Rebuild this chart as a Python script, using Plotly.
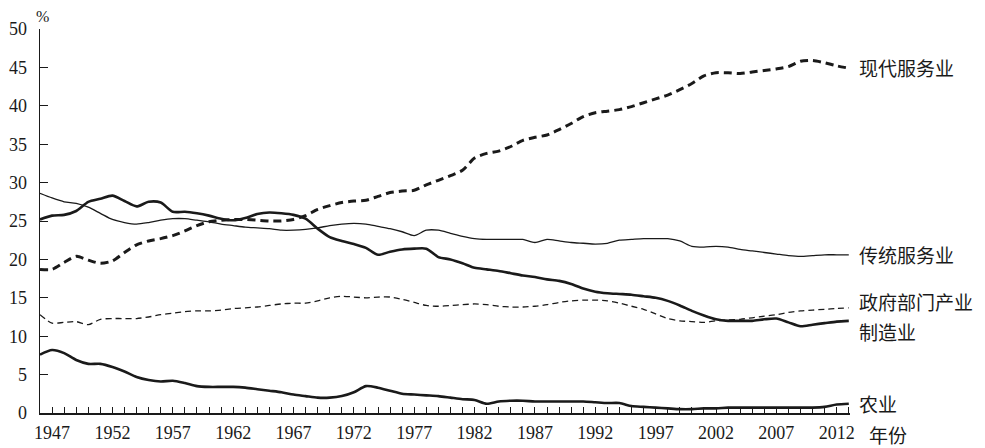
import plotly.graph_objects as go

years = list(range(1946, 2014))

modern_services = [18.7, 18.7, 19.6, 20.4, 19.9, 19.5, 19.8, 20.9, 21.9, 22.4,
                   22.7, 23.1, 23.7, 24.4, 24.9, 25.1, 25.2, 25.2, 25.1, 25.0,
                   25.0, 25.2, 25.7, 26.5, 27.0, 27.4, 27.6, 27.7, 28.2, 28.7,
                   28.9, 29.0, 29.7, 30.3, 30.9, 31.6, 33.2, 33.8, 34.1, 34.7,
                   35.5, 35.9, 36.2, 36.9, 37.7, 38.6, 39.1, 39.3, 39.5, 39.9,
                   40.4, 40.9, 41.4, 42.1, 42.9, 43.9, 44.3, 44.3, 44.2, 44.4,
                   44.6, 44.8, 45.1, 45.8, 45.9, 45.6, 45.2, 44.9]

traditional_services = [28.6, 28.0, 27.5, 27.3, 26.8, 26.0, 25.2, 24.8, 24.6, 24.8,
                        25.1, 25.3, 25.3, 25.1, 24.9, 24.6, 24.4, 24.2, 24.1, 24.0,
                        23.8, 23.8, 23.9, 24.1, 24.4, 24.6, 24.7, 24.6, 24.3, 24.0,
                        23.6, 23.1, 23.8, 23.8, 23.4, 23.0, 22.7, 22.6, 22.6, 22.6,
                        22.6, 22.2, 22.6, 22.4, 22.2, 22.1, 22.0, 22.1, 22.5, 22.6,
                        22.7, 22.7, 22.7, 22.4, 21.7, 21.6, 21.7, 21.6, 21.3, 21.1,
                        20.9, 20.7, 20.5, 20.4, 20.5, 20.6, 20.6, 20.6]

government = [12.8, 11.7, 11.8, 11.9, 11.5, 12.2, 12.3, 12.3, 12.3, 12.5,
              12.8, 13.0, 13.2, 13.3, 13.3, 13.4, 13.6, 13.7, 13.8, 14.0,
              14.2, 14.3, 14.3, 14.6, 15.0, 15.2, 15.1, 15.0, 15.1, 15.1,
              14.8, 14.4, 14.0, 13.9, 14.0, 14.1, 14.2, 14.1, 13.9, 13.8,
              13.8, 13.9, 14.1, 14.4, 14.6, 14.7, 14.7, 14.6, 14.3, 13.9,
              13.5, 12.9, 12.3, 12.0, 11.9, 11.8, 12.0, 12.1, 12.2, 12.4,
              12.6, 12.8, 13.1, 13.3, 13.4, 13.5, 13.6, 13.7]

manufacturing = [25.2, 25.7, 25.8, 26.3, 27.5, 27.9, 28.3, 27.6, 26.9, 27.5,
                 27.4, 26.2, 26.2, 26.0, 25.7, 25.3, 25.1, 25.4, 25.9, 26.1,
                 26.0, 25.8, 25.3, 24.0, 22.9, 22.4, 22.0, 21.5, 20.6, 21.0,
                 21.3, 21.4, 21.4, 20.3, 20.0, 19.5, 18.9, 18.7, 18.5, 18.2,
                 17.9, 17.7, 17.4, 17.2, 16.8, 16.2, 15.8, 15.6, 15.5, 15.4,
                 15.2, 15.0, 14.6, 14.0, 13.3, 12.7, 12.2, 12.0, 12.0, 12.0,
                 12.2, 12.3, 11.8, 11.3, 11.5, 11.7, 11.9, 12.0]

agriculture = [7.6, 8.2, 7.8, 6.9, 6.4, 6.4, 6.0, 5.4, 4.7, 4.3,
               4.1, 4.2, 3.9, 3.5, 3.4, 3.4, 3.4, 3.3, 3.1, 2.9,
               2.7, 2.4, 2.2, 2.0, 2.0, 2.2, 2.7, 3.5, 3.3, 2.9,
               2.5, 2.4, 2.3, 2.2, 2.0, 1.8, 1.7, 1.2, 1.5, 1.6,
               1.6, 1.5, 1.5, 1.5, 1.5, 1.5, 1.4, 1.3, 1.3, 0.9,
               0.8, 0.7, 0.6, 0.5, 0.5, 0.6, 0.6, 0.7, 0.7, 0.7,
               0.7, 0.7, 0.7, 0.7, 0.7, 0.8, 1.1, 1.2]

series_names = ["现代服务业", "传统服务业", "政府部门产业", "制造业", "农业"]
label_values = [45.0, 20.6, 14.5, 10.6, 1.3]
x_tick_years = list(range(1947, 2013, 5))
y_ticks = list(range(0, 51, 5))

INK = "#1a1a1a"
SERIF = "Liberation Serif, Times New Roman, serif"
CJK = "Noto Sans CJK SC, sans-serif"

styles = [
    dict(width=3.0, dash="8px,5px"),
    dict(width=1.3, dash="solid"),
    dict(width=1.3, dash="6px,4px"),
    dict(width=2.6, dash="solid"),
    dict(width=2.6, dash="solid"),
]
data = [modern_services, traditional_services, government, manufacturing, agriculture]

fig = go.Figure()
for name, vals, st in zip(series_names, data, styles):
    fig.add_trace(go.Scatter(
        x=years, y=vals, mode="lines", name=name,
        line=dict(color=INK, width=st["width"], dash=st["dash"], shape="spline", smoothing=0.7),
        hoverinfo="skip", showlegend=False,
    ))

for name, v in zip(series_names, label_values):
    fig.add_annotation(
        x=1, xref="paper", y=v, yref="y", text=name, showarrow=False,
        xanchor="left", yanchor="middle", xshift=7,
        font=dict(family=CJK, size=19, color=INK),
    )

fig.add_annotation(
    x=1, xref="paper", y=0, yref="paper", text="年份", showarrow=False,
    xanchor="left", yanchor="middle", xshift=17, yshift=-21,
    font=dict(family=CJK, size=19, color=INK),
)
fig.add_annotation(
    x=0, xref="paper", y=1, yref="paper", text="%", showarrow=False,
    xanchor="center", yanchor="middle", xshift=2, yshift=13,
    font=dict(family=SERIF, size=16, color=INK),
)

fig.update_layout(
    width=985, height=448,
    margin=dict(l=40, r=135, t=29, b=35, autoexpand=False),
    paper_bgcolor="white", plot_bgcolor="white",
    showlegend=False,
    xaxis=dict(
        range=[1946, 2013.1], automargin=False,
        tickmode="array", tickvals=x_tick_years, ticktext=[str(y) for y in x_tick_years],
        ticks="inside", ticklen=6, tickwidth=1, tickcolor=INK,
        minor=dict(dtick=1, tick0=1947, ticks="inside", ticklen=6, tickwidth=1, tickcolor=INK),
        showline=True, linecolor=INK, linewidth=1.5,
        showgrid=False, zeroline=False,
        tickfont=dict(family=SERIF, size=18, color=INK),
        ticklabelstandoff=3,
    ),
    yaxis=dict(
        range=[0, 50], automargin=False,
        tickmode="array", tickvals=y_ticks,
        ticks="inside", ticklen=8, tickwidth=1, tickcolor=INK,
        showline=True, linecolor=INK, linewidth=1.5,
        showgrid=False, zeroline=False,
        tickfont=dict(family=SERIF, size=18, color=INK),
        ticklabelstandoff=8,
    ),
)

fig.write_html(
    "out.html",
    config={"displayModeBar": False, "staticPlot": True},
    post_script="document.body.style.margin='0';document.body.style.overflow='hidden';",
)
